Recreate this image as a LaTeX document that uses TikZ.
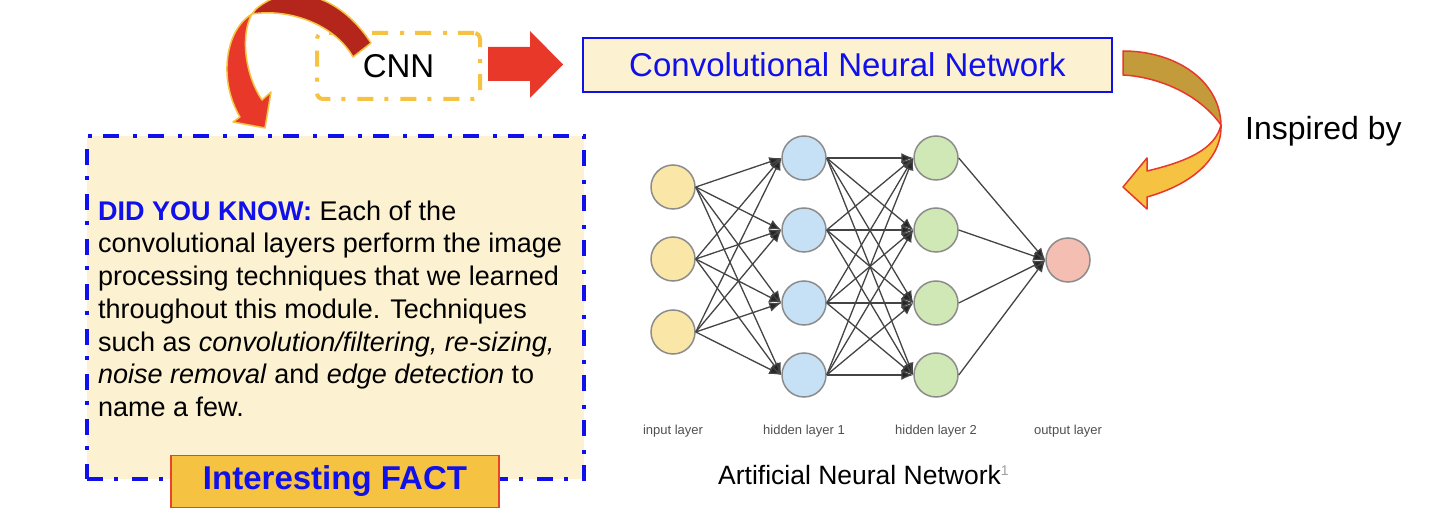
\documentclass[tikz,border=0pt]{standalone}
\usepackage{fontspec}
\setmainfont{Liberation Sans}
\usetikzlibrary{arrows.meta}
\definecolor{gold}{HTML}{F5C242}
\definecolor{arrred}{HTML}{E8382A}
\definecolor{darkred}{HTML}{B4261B}
\definecolor{olive}{HTML}{C39B3A}
\definecolor{cream}{HTML}{FCF1D0}
\definecolor{myblue}{RGB}{16,16,235}
\definecolor{factborder}{HTML}{E8442A}
\definecolor{inyellow}{HTML}{FAE6A6}
\definecolor{hidblue}{HTML}{C6E1F5}
\definecolor{hidgreen}{HTML}{CFE8B5}
\definecolor{outpink}{HTML}{F4BFB2}
\definecolor{nodeedge}{HTML}{8C8C8C}
\definecolor{edgegray}{HTML}{444444}
\definecolor{tipgray}{HTML}{262626}
\definecolor{labgray}{HTML}{505050}
\definecolor{supgray}{HTML}{A0A0A0}
\tikzset{
  cnnbox/.style={draw=gold, line width=4pt, dash pattern=on 16pt off 11pt on 4pt off 12pt,
    rounded corners=6pt, minimum width=163pt, minimum height=66pt, inner sep=0pt,
    font=\fontsize{33}{40}\selectfont},
  convbox/.style={draw=myblue, line width=1.5pt, fill=cream, minimum width=529pt,
    minimum height=54pt, inner sep=0pt, text=myblue, font=\fontsize{33}{40}\selectfont},
  didbox/.style={draw=myblue, line width=4pt, fill=cream,
    dash pattern=on 16pt off 11pt on 4pt off 14pt, minimum width=497pt, minimum height=343pt},
  factbox/.style={draw=factborder, line width=1.5pt, fill=gold, minimum width=328pt,
    minimum height=52pt, inner sep=0pt, text=myblue, font=\bfseries\fontsize{33}{40}\selectfont},
  neuron/.style={circle, draw=nodeedge, line width=1.5pt, minimum size=44pt, inner sep=0pt},
  netedge/.style={draw=edgegray, line width=1.3pt, -{Latex[length=12pt,width=10pt,fill=tipgray]}},
  laylabel/.style={anchor=base, text=labgray, font=\fontsize{13}{15}\selectfont},
}
\begin{document}
\begin{tikzpicture}[x=1pt,y=-1pt]
\useasboundingbox (0,0) rectangle (1436,518);
\fill[white] (0,0) rectangle (1436,518);
\begin{scope}
\clip (0,0) rectangle (1436,518);

% DID YOU KNOW box
\node[didbox] (did) at (335.5,307.5) {};
\node[anchor=north west, inner sep=0pt, align=left,
  font=\fontsize{27}{32.7}\selectfont] (didtext) at (98,200.5)
 {{\bfseries\color{myblue}DID YOU KNOW:} Each of the\\
  convolutional layers perform the image\\
  processing techniques that we learned\\
  throughout this module. Techniques\\
  such as \textit{convolution/filtering, re-sizing,}\\
  \textit{noise removal} and \textit{edge detection} to\\
  name a few.};
\node[factbox] (fact) at (335,481.5) {Interesting FACT};

% CNN box and title box
\node[cnnbox] (cnn) at (398.5,66) {CNN};
\node[convbox] (conv) at (847.5,65) {Convolutional Neural Network};

% block arrow CNN -> title
\fill[arrred] (488,47) -- (530,47) -- (530,31) -- (563,64.5) -- (530,98) -- (530,81) -- (488,81) -- cycle;

% curved arrow top-left
\filldraw[fill=darkred, draw=gold, line width=1.5pt, line join=round]
  (252,14) .. controls (290,8) and (335,25) .. (353,57) -- (371,43)
  .. controls (340,-5) and (290,-20) .. (256,9) -- cycle;
\filldraw[fill=arrred, draw=gold, line width=1.5pt, line join=round]
  (252,14) .. controls (225,30) and (218,80) .. (240,117) -- (233,122) -- (265,128)
  -- (271,92) -- (262,100) .. controls (245,75) and (240,35) .. (252,14) -- cycle;

% curved arrow right
\filldraw[fill=olive, draw=arrred, line width=1.5pt, line join=round]
  (1123,51) .. controls (1175,51) and (1220,80) .. (1221,125)
  .. controls (1200,95) and (1160,77) .. (1123,75) -- cycle;
\filldraw[fill=gold, draw=arrred, line width=1.5pt, line join=round]
  (1221,125) .. controls (1222,160) and (1190,185) .. (1147,197) -- (1147,209)
  -- (1123,187) -- (1147,158) -- (1147,171) .. controls (1185,162) and (1215,150) .. (1221,125) -- cycle;
\node[anchor=base west, inner sep=0pt, font=\fontsize{32}{38}\selectfont] (insp) at (1245,140) {Inspired by};

% neural network
\node[neuron, fill=inyellow] (i1) at (673,187) {};
\node[neuron, fill=inyellow] (i2) at (673,259) {};
\node[neuron, fill=inyellow] (i3) at (673,332) {};
\foreach \k/\yy in {1/158,2/230,3/303,4/375}{
  \node[neuron, fill=hidblue] (a\k) at (804,\yy) {};
  \node[neuron, fill=hidgreen] (b\k) at (936,\yy) {};
}
\node[neuron, fill=outpink] (o) at (1068,260) {};
\foreach \s in {1,2,3}{\foreach \t in {1,...,4}{\draw[netedge] (i\s.east) -- (a\t.west);}}
\foreach \s in {1,...,4}{\foreach \t in {1,...,4}{\draw[netedge] (a\s.east) -- (b\t.west);}}
\foreach \s in {1,...,4}{\draw[netedge] (b\s.east) -- (o.west);}

\node[laylabel] (l0) at (673,435) {input layer};
\node[laylabel] (l1) at (804,435) {hidden layer 1};
\node[laylabel] (l2) at (936,435) {hidden layer 2};
\node[laylabel] (l3) at (1068,435) {output layer};
\node[anchor=base west, inner sep=0pt, font=\fontsize{26.5}{32}\selectfont] (ann) at (718,485)
  {Artificial Neural Network\raisebox{9pt}{\fontsize{14}{14}\selectfont\color{supgray}1}};
\end{scope}
\end{tikzpicture}
\end{document}
